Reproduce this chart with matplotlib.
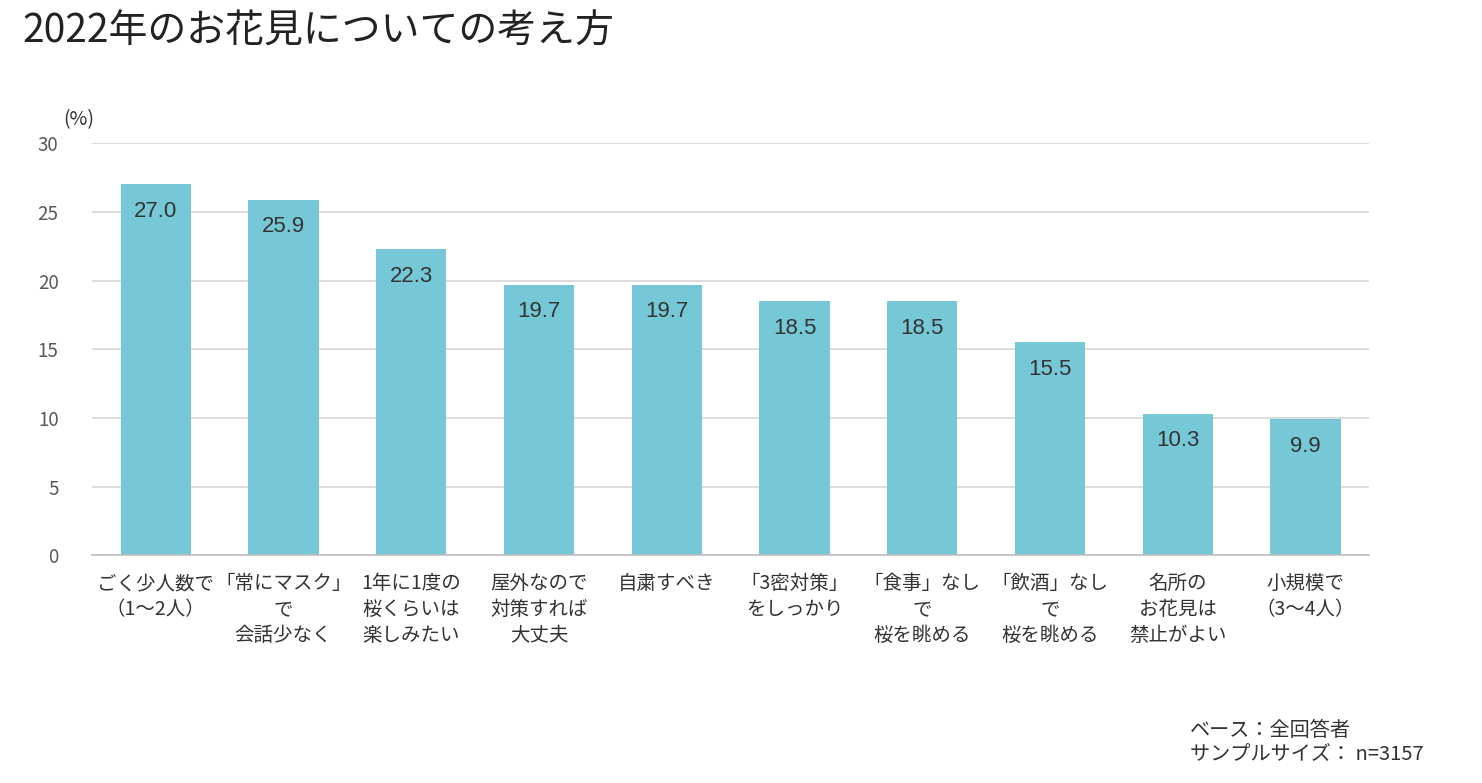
import matplotlib
matplotlib.use("Agg")
import matplotlib.pyplot as plt

plt.rcParams['font.family'] = ['Noto Sans CJK JP', 'DejaVu Sans']

categories = [
    "ごく少人数で\n（1～2人）",
    "「常にマスク」\nで\n会話少なく",
    "1年に1度の\n桜くらいは\n楽しみたい",
    "屋外なので\n対策すれば\n大丈夫",
    "自粛すべき",
    "「3密対策」\nをしっかり",
    "「食事」なし\nで\n桜を眺める",
    "「飲酒」なし\nで\n桜を眺める",
    "名所の\nお花見は\n禁止がよい",
    "小規模で\n（3～4人）",
]
values = [27.0, 25.9, 22.3, 19.7, 19.7, 18.5, 18.5, 15.5, 10.3, 9.9]
yticks = [0, 5, 10, 15, 20, 25, 30]

title = "2022年のお花見についての考え方"
bar_color = "#77C8D6"

fig = plt.figure(figsize=(14.82, 7.83), dpi=100)
ax = fig.add_axes([0.062, 0.291, 0.862, 0.526])

x = list(range(len(values)))
bars = ax.bar(x, values, width=0.55, color=bar_color, zorder=2)
for xi, v in zip(x, values):
    ax.annotate(f"{v:.1f}", (xi, v), xytext=(0, -12), textcoords="offset points",
                ha="center", va="top", fontsize=16, color="#333333", zorder=3,
                family=["Liberation Sans", "DejaVu Sans"])

ax.set_xlim(-0.5, len(values) - 0.5)
ax.set_ylim(0, 30)
ax.set_yticks(yticks)
ax.set_yticklabels([str(t) for t in yticks], fontsize=13.5, color="#595959")
ax.yaxis.grid(True, color="#D9D9D9", linewidth=1.3, zorder=0)
ax.set_axisbelow(True)
ax.tick_params(axis="y", length=0, pad=24)
ax.tick_params(axis="x", length=0, pad=13)
ax.set_xticks(x)
ax.set_xticklabels(categories, fontsize=14, color="#333333", linespacing=1.3, va="top")
for s in ["top", "right", "left"]:
    ax.spines[s].set_visible(False)
ax.spines["bottom"].set_color("#BFBFBF")
ax.spines["bottom"].set_linewidth(1.2)

fig.text(22 / 1482, 1 - 32 / 783, title, fontsize=28, color="#222222", va="center", ha="left")
fig.text(63 / 1482, 1 - 120 / 783, "(%)", fontsize=14, color="#333333", va="center", ha="left")
fig.text(1190 / 1482, 1 - 730 / 783, "ベース：全回答者", fontsize=14.5, color="#333333", va="center", ha="left")
fig.text(1190 / 1482, 1 - 755 / 783, "サンプルサイズ： n=3157", fontsize=14.5, color="#333333", va="center", ha="left")

fig.savefig("out.png", dpi=100)
